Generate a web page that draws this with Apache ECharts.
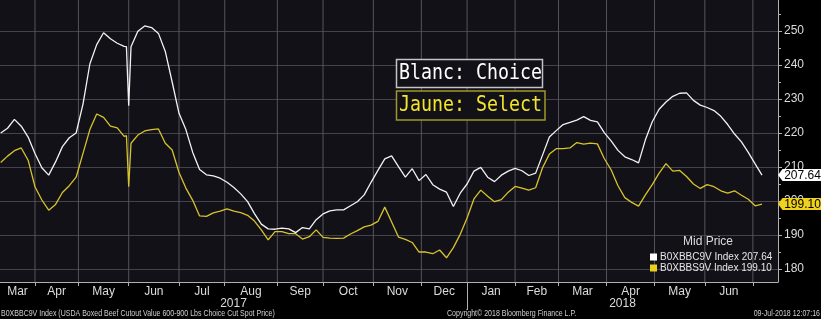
<!DOCTYPE html>
<html><head><meta charset="utf-8">
<style>html,body{margin:0;padding:0;background:#000;}#c{width:821px;height:319px;}</style>
<script src="https://cdn.jsdelivr.net/npm/echarts@6.0.0/dist/echarts.min.js"></script>
</head><body><div id="c"></div>
<script>
// trading-day index, 0 = first trading day of Mar 2017
const monthStarts = [0,23,42,64,86,106,129,149,171,192,212,233,252,273,294,316,337];
const monthNames = ['Mar','Apr','May','Jun','Jul','Aug','Sep','Oct','Nov','Dec','Jan','Feb','Mar','Apr','May','Jun'];
const yearNames = ['2017','2018'];
const yearStart = 212;
const yTicks = [180,190,200,210,220,230,240,250];
const yMinorTicks = [180,185,190,195,200,205,210,215,220,225,230,235,240,245,250,255];
const seriesNames = ['B0XBBC9V Index','B0XBBS9V Index'];

const dayIdx = [8,11,14,17,20,23,26,29,32,35,38,41,44,47,50,53,56,59,62,63,64,
65,68,71,74,77,80,83,86,89,92,95,98,101,104,107,110,113,116,119,122,125,128,131,134,137,140,143,146,149,152,155,158,161,164,167,170,173,176,179,182,185,188,191,194,197,200,203,206,209,212,215,218,221,224,227,230,233,236,239,242,245,248,251,254,257,260,263,266,269,272,275,278,281,284,287,290,293,296,299,302,305,308,311,314,317,320,323,326,329,332,335,338,341];

const choice = [220.0,221.4,224.0,222.0,218.8,214.0,209.8,207.6,211.5,216.0,218.6,220.0,228.5,240.3,246.0,249.5,247.7,246.4,245.5,245.4,228.0,
245.4,249.9,251.5,251.0,249.3,244.0,235.0,225.8,221.0,214.3,209.3,207.7,207.4,206.7,205.5,204.0,202.1,199.8,196.3,193.2,191.8,191.7,192.0,191.8,190.7,192.2,191.8,194.5,196.2,197.1,197.4,197.4,198.6,199.8,201.8,205.5,209.0,212.4,213.3,210.1,207.0,209.5,206.0,207.8,204.8,203.5,202.6,198.4,202.3,205.0,208.8,209.9,207.0,205.7,207.6,208.8,209.6,208.9,207.5,208.2,213.5,218.8,220.7,222.5,223.1,223.8,224.8,223.7,223.3,220.1,217.7,214.9,213.0,212.2,211.2,218.0,223.3,227.0,229.1,230.8,231.7,231.8,229.6,228.2,227.5,226.6,224.9,222.5,219.7,217.4,214.3,210.9,207.64];

const select = [211.3,213.2,214.8,215.6,212.0,204.2,200.3,197.3,199.0,202.5,204.5,207.0,214.0,221.0,225.6,224.6,222.0,221.5,219.0,219.2,204.2,
217.0,219.4,220.6,221.0,221.2,217.0,215.0,208.4,203.8,200.2,195.6,195.5,196.5,197.0,197.7,197.0,196.6,195.8,194.1,191.5,188.6,191.0,191.0,190.4,190.4,188.8,189.5,191.5,189.3,189.1,189.0,189.1,190.3,191.3,192.4,192.9,194.0,198.2,193.8,189.4,188.7,187.8,185.0,185.0,184.5,185.6,183.3,186.3,190.2,195.0,200.6,203.2,201.4,199.8,200.4,202.6,204.3,203.8,203.2,203.9,209.8,213.8,215.4,215.4,215.6,217.2,216.7,217.0,216.8,212.5,209.2,204.5,201.0,199.6,198.5,201.8,204.8,208.2,211.0,208.8,209.0,207.2,205.0,203.7,204.8,204.2,203.0,202.3,203.0,201.7,200.5,198.6,199.10];

if (choice.length !== dayIdx.length || select.length !== dayIdx.length) {
  throw new Error('length mismatch ' + dayIdx.length + ' ' + choice.length + ' ' + select.length);
}

const xMin = 7.7, xMax = 348, yMin = 176.18, yMax = 259.12;
const lastChoice = choice[choice.length - 1];
const lastSelect = select[select.length - 1];

const labelPos = monthNames.map((n, i) => (Math.max(monthStarts[i], xMin) + monthStarts[i + 1]) / 2);
const yearPos = [(xMin + yearStart) / 2, (yearStart + xMax) / 2];
const visibleStarts = monthStarts.filter(v => v > xMin && v < xMax);
function nearestName(v, pos, names) {
  let best = 0;
  pos.forEach((p, i) => { if (Math.abs(p - v) < Math.abs(pos[best] - v)) best = i; });
  return names[best];
}

const WHITE = '#f2f2f2', YELLOW = '#d7c32c', BG = '#121118', GRID = '#44434b', VGRID = '#55545c', AXIS = '#b0b0b0', TXT = '#dcdcdc';
const FONT = 'Liberation Sans';
const tagPath = 'path://M0,6 L6,0 L60,0 L60,12 L6,12 Z';

// vertical month grid lines: one two-point line series per month boundary
const monthGridSeries = visibleStarts.map((v, i) => ({
  name: 'monthGrid' + i, type: 'line', silent: true, symbol: 'none', showSymbol: false,
  z: 1, animation: false, legendHoverLink: false, tooltip: { show: false },
  data: [[v, yMin], [v, yMax]],
  lineStyle: { color: VGRID, width: 1 }
}));

const chart = echarts.init(document.getElementById('c'));
chart.setOption({
  backgroundColor: '#000',
  animation: false,
  grid: { left: 0, right: 43, top: 0, bottom: 37, show: true, backgroundColor: BG, borderWidth: 0 },
  xAxis: [{
    type: 'value', min: xMin, max: xMax,
    axisLine: { show: true, lineStyle: { color: AXIS, width: 1 } },
    axisTick: { show: true, customValues: visibleStarts, length: 4, lineStyle: { color: AXIS } },
    splitLine: { show: false },
    axisLabel: { customValues: labelPos, margin: 4, color: TXT, fontSize: 12, fontFamily: FONT,
      formatter: v => nearestName(v, labelPos, monthNames) }
  }, {
    type: 'value', min: xMin, max: xMax, position: 'bottom',
    axisLine: { show: false },
    axisTick: { show: true, customValues: [yearStart], length: 28, lineStyle: { color: AXIS } },
    splitLine: { show: false },
    axisLabel: { customValues: yearPos, margin: 16, color: TXT, fontSize: 12, fontFamily: FONT,
      formatter: v => nearestName(v, yearPos, yearNames) }
  }],
  yAxis: [{
    type: 'value', position: 'right', min: yMin, max: yMax,
    axisLine: { show: true, lineStyle: { color: AXIS, width: 1 } },
    axisTick: { show: true, customValues: yTicks, length: 4, lineStyle: { color: AXIS } },
    splitLine: { show: true, lineStyle: { color: GRID, width: 1 } },
    axisLabel: { customValues: yTicks, margin: 6, color: TXT, fontSize: 12, fontFamily: FONT }
  }, {
    type: 'value', position: 'right', min: yMin, max: yMax,
    axisLine: { show: false },
    axisTick: { show: true, customValues: yMinorTicks, length: 3, lineStyle: { color: AXIS } },
    splitLine: { show: false },
    axisLabel: { show: false }
  }],
  legend: {
    left: 645, top: 247, orient: 'vertical', itemGap: 1, itemWidth: 7, itemHeight: 7, icon: 'rect',
    selectedMode: false,
    textStyle: { color: '#e6e6e6', fontSize: 10, fontFamily: FONT, padding: [0, 0, 0, -2] },
    formatter: name => name + ' ' + (name === seriesNames[0] ? lastChoice : lastSelect).toFixed(2),
    data: seriesNames
  },
  series: monthGridSeries.concat([{
    name: seriesNames[0], type: 'line', showSymbol: false, symbol: 'none',
    data: dayIdx.map((d, i) => [d, choice[i]]),
    lineStyle: { color: WHITE, width: 1.3 }, itemStyle: { color: '#ffffff' }, z: 3,
    markPoint: {
      symbol: tagPath, symbolSize: [45, 12], symbolOffset: [22.5, 0], symbolKeepAspect: false,
      itemStyle: { color: '#ffffff' },
      label: { show: true, color: '#000', fontSize: 12, fontFamily: FONT, offset: [2, 0.5], formatter: lastChoice.toFixed(2) },
      data: [{ coord: [xMax, lastChoice], value: lastChoice }]
    }
  }, {
    name: seriesNames[1], type: 'line', showSymbol: false, symbol: 'none',
    data: dayIdx.map((d, i) => [d, select[i]]),
    lineStyle: { color: YELLOW, width: 1.3 }, itemStyle: { color: '#e8cf1a' }, z: 2,
    markPoint: {
      symbol: tagPath, symbolSize: [45, 12], symbolOffset: [22.5, 0], symbolKeepAspect: false,
      itemStyle: { color: '#efd21c' },
      label: { show: true, color: '#000', fontSize: 12, fontFamily: FONT, offset: [2, 0.5], formatter: lastSelect.toFixed(2) },
      data: [{ coord: [xMax, lastSelect], value: lastSelect }]
    }
  }]),
  graphic: [
    { type: 'rect', shape: { x: 396.5, y: 59.5, width: 146, height: 28 }, style: { fill: BG, stroke: '#c4c4c4', lineWidth: 1.5 }, z: 10 },
    { type: 'text', x: 399, y: 74, scaleX: 0.87, style: { text: 'Blanc: Choice', fill: '#ffffff', font: '21px "DejaVu Sans Mono"', verticalAlign: 'middle' }, z: 11 },
    { type: 'rect', shape: { x: 396.5, y: 91, width: 148.5, height: 29 }, style: { fill: BG, stroke: '#9e9826', lineWidth: 1.5 }, z: 10 },
    { type: 'text', x: 399, y: 106, scaleX: 0.87, style: { text: 'Jaune: Select', fill: '#f4e52c', font: '21px "DejaVu Sans Mono"', verticalAlign: 'middle' }, z: 11 },
    { type: 'text', x: 708, y: 242, style: { text: 'Mid Price', fill: TXT, font: '12px "Liberation Sans"', align: 'center', verticalAlign: 'middle' }, z: 11 },
    { type: 'text', x: 1, y: 314, scaleX: 0.78, style: { text: 'B0XBBC9V Index (USDA Boxed Beef Cutout Value 600-900 Lbs Choice Cut Spot Price)', fill: '#cfcfcf', font: '9px "Liberation Sans"', verticalAlign: 'middle' } },
    { type: 'text', x: 447, y: 314, scaleX: 0.78, style: { text: 'Copyright\u00A9 2018 Bloomberg Finance L.P.', fill: '#cfcfcf', font: '9px "Liberation Sans"', verticalAlign: 'middle' } },
    { type: 'text', x: 820, y: 314, scaleX: 0.78, style: { text: '09-Jul-2018 12:07:16', fill: '#cfcfcf', font: '9px "Liberation Sans"', align: 'right', verticalAlign: 'middle' } }
  ]
});
</script>
</body></html>
